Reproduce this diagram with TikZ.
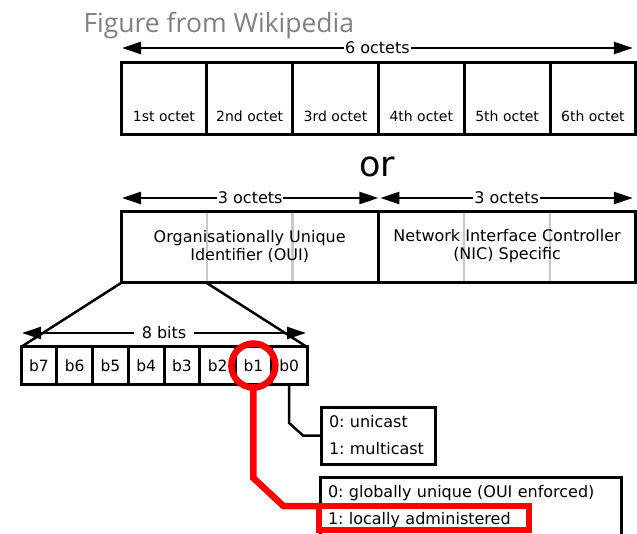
\documentclass[tikz,border=0pt]{standalone}
\usepackage{fontspec}
\setmainfont{DejaVu Sans}
\newfontfamily\wikifont{Open Sans}
\usepackage{xcolor}
\definecolor{MACGray}{RGB}{128,128,128}
\definecolor{MACLight}{RGB}{200,200,200}
\definecolor{MACRed}{RGB}{255,0,0}
\usepackage{tikz}
\usetikzlibrary{positioning,arrows.meta,calc}
\frenchspacing

\begin{document}
\begin{tikzpicture}[x=1pt, y=-1pt, node distance=0pt, font=\fontsize{16}{18}\selectfont]
\tikzstyle{octet}=[draw, line width=3pt, outer sep=0pt, minimum width=85.8pt, minimum height=72pt]
\tikzstyle{half}=[draw, line width=3pt, outer sep=0pt, minimum width=257.4pt, minimum height=71pt]
\tikzstyle{bit}=[draw, line width=3pt, outer sep=0pt, minimum width=35.75pt, minimum height=37pt, inner sep=0pt, font=\fontsize{15.5}{18}\selectfont]
\tikzstyle{lbl}=[font=\fontsize{14}{16}\selectfont, anchor=base]
\tikzstyle{span}=[{Triangle[length=19pt,width=12pt]}-{Triangle[length=19pt,width=12pt]}, line width=2.5pt]
\tikzstyle{spantext}=[fill=white, inner xsep=1pt, inner ysep=0pt]
\tikzstyle{divider}=[draw=MACLight, line width=2.5pt, shorten <=1.5pt, shorten >=1.5pt]
\tikzstyle{info}=[draw, line width=3pt, outer sep=0pt, anchor=north west, align=left, inner xsep=8pt, font=\fontsize{16}{27}\selectfont]
\tikzstyle{hilite}=[draw=MACRed, line width=6.5pt, outer sep=0pt]

\useasboundingbox (0,0) rectangle (637,534);

\node[font=\wikifont\fontsize{26.5}{30}\selectfont, text=MACGray, anchor=base west] (title) at (80,33) {Figure from Wikipedia};

% six octets
\node[octet, anchor=north west] (o1) at (121,63) {};
\node[octet, right=of o1] (o2) {};
\node[octet, right=of o2] (o3) {};
\node[octet, right=of o3] (o4) {};
\node[octet, right=of o4] (o5) {};
\node[octet, right=of o5] (o6) {};

\node[lbl] (l1) at ([yshift=13pt]o1.south) {1st octet};
\node[lbl] (l2) at ([yshift=13pt]o2.south) {2nd octet};
\node[lbl] (l3) at ([yshift=13pt]o3.south) {3rd octet};
\node[lbl] (l4) at ([yshift=13pt]o4.south) {4th octet};
\node[lbl] (l5) at ([yshift=13pt]o5.south) {5th octet};
\node[lbl] (l6) at ([yshift=13pt]o6.south) {6th octet};

\draw[span] ([xshift=1pt,yshift=15pt]o1.north west) -- ([xshift=-3pt,yshift=15pt]o6.north east) node[midway, spantext] (six) {6 octets};

\node[font=\fontsize{35}{40}\selectfont, anchor=base] (or) at ([xshift=-1pt,yshift=-42pt]o3.south east) {or};

% OUI + NIC
\node[half, anchor=north west] (oui) at (121,212) {};
\node[half, right=of oui] (nic) {};
\draw[divider] ([xshift=85.8pt]oui.north west) -- ([xshift=85.8pt]oui.south west);
\draw[divider] ([xshift=171.6pt]oui.north west) -- ([xshift=171.6pt]oui.south west);
\draw[divider] ([xshift=85.8pt]nic.north west) -- ([xshift=85.8pt]nic.south west);
\draw[divider] ([xshift=171.6pt]nic.north west) -- ([xshift=171.6pt]nic.south west);
\node[align=center] (ouitext) at ([yshift=1pt]oui.center) {Organisationally Unique\\Identifier (OUI)};
\node[align=center] (nictext) at ([yshift=1pt]nic.center) {Network Interface Controller\\(NIC) Specific};

\draw[span] ([xshift=1pt,yshift=14pt]oui.north west) -- ([yshift=14pt]oui.north east) node[midway, spantext] (threeA) {3 octets};
\draw[span] ([xshift=2pt,yshift=14pt]nic.north west) -- ([xshift=-3pt,yshift=14pt]nic.north east) node[midway, spantext] (threeB) {3 octets};

% first octet bits
\node[bit, anchor=north west] (b7) at (21,347) {b7};
\node[bit, right=of b7] (b6) {b6};
\node[bit, right=of b6] (b5) {b5};
\node[bit, right=of b5] (b4) {b4};
\node[bit, right=of b4] (b3) {b3};
\node[bit, right=of b3] (b2) {b2};
\node[bit, right=of b2] (b1) {b1};
\node[bit, right=of b1] (b0) {b0};

\draw[line width=2.5pt] (oui.south west) -- (b7.north west);
\draw[line width=2.5pt] ([xshift=85.8pt]oui.south west) -- (b0.north east);
\draw[span] ([xshift=1pt,yshift=14pt]b7.north west) -- ([xshift=-1pt,yshift=14pt]b0.north east) node[midway, spantext, inner xsep=8pt] (eight) {8 bits};

% meaning of b0 and b1
\node[info, minimum width=114pt, minimum height=57pt, text width=98pt] (ucast) at (321,407) {0: unicast\\1: multicast};
\draw[line width=2.5pt] (b0.south) -- ++(0,39) -- ([xshift=-18pt]ucast.west) -- (ucast.west);

\node[info, minimum height=60pt, text width=285pt] (guniq) at (320,477) {0: globally unique (OUI enforced)\\1: locally administered};

\node[hilite, circle, minimum size=44pt] (ring) at (b1.center) {};
\node[hilite, anchor=north west, minimum width=210pt, minimum height=24pt] (pick) at (319,506) {};
\draw[draw=MACRed, line width=6.5pt] (ring.south) -- ++(0,90.5) -- ++(30,28) -- (pick.north west);
\end{tikzpicture}
\end{document}
